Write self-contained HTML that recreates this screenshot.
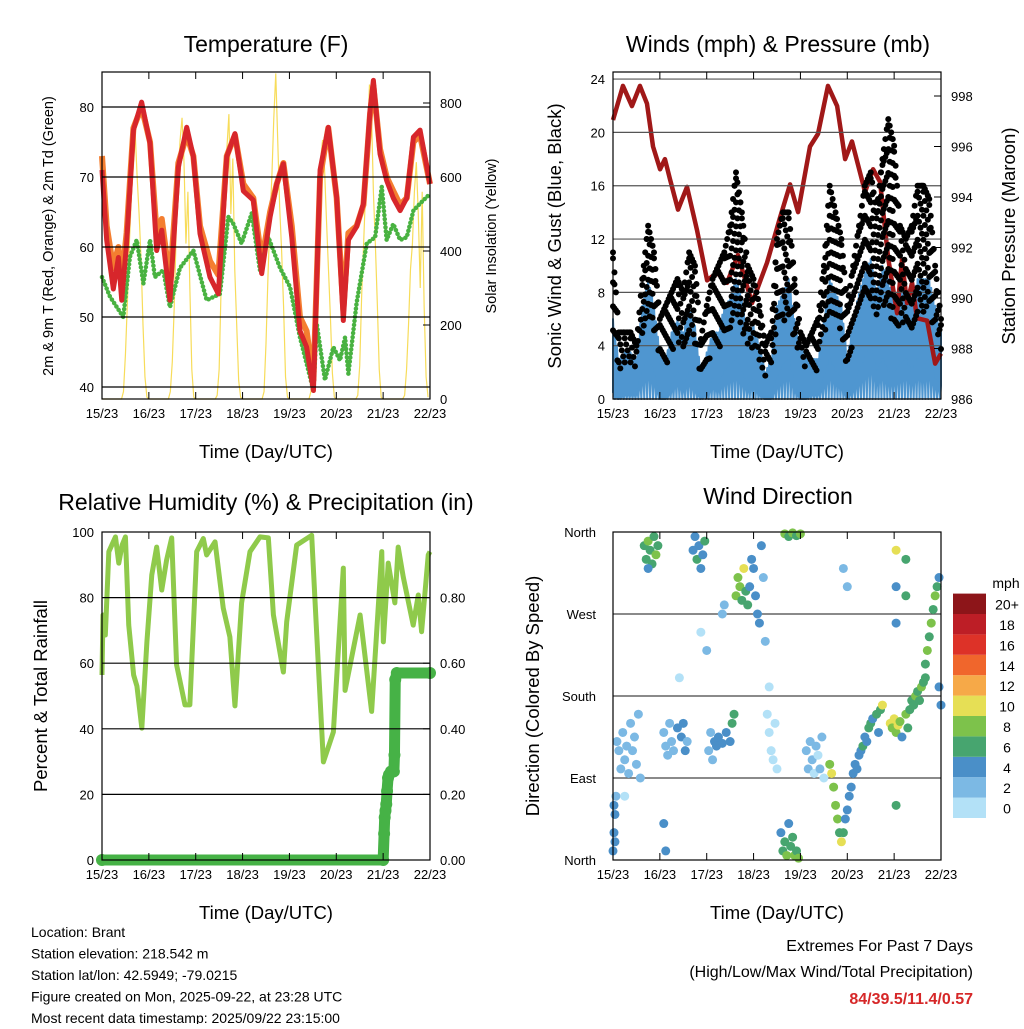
<!DOCTYPE html>
<html><head><meta charset="utf-8"><style>
body{margin:0;background:#fff;}
svg text{font-family:"Liberation Sans",sans-serif;fill:#000;}
</style></head><body>
<svg id="chart" xmlns="http://www.w3.org/2000/svg" width="1024" height="1024" viewBox="0 0 1024 1024"></svg>
<script>
// ---------- Temperature panel data ----------
const redHours=[0,2.4,5.8,8.4,10.1,12.6,16.1,20.3,24.6,28,30.6,34.8,39.1,43.4,46.8,50.2,55.3,59.6,63.9,68.1,72.4,77.5,81.8,86.1,89.5,92.9,97.2,101.4,104.8,108.3,111.7,115.9,120.2,123.6,126.2,130.4,133.9,137.3,139,142.4,145.8,149.2,152.7,156.1,159.5,162.9,168];
const temp2m=[71,61,54,58.5,52.4,60.5,76.7,80.7,74.8,59.5,62.4,52.4,71.4,77.1,72.9,61.9,55.7,53.3,72.9,76.2,68,66.7,56.2,64.3,69,71.9,61.4,48,45.7,39.5,71,77.1,67.1,49.5,61,62.9,66.2,79.5,83.8,73.3,69.5,67,65.2,67,75.7,76.7,69];
const temp9m=[73,63,57,60,55,62,77,80,75,62,64,55,72,76,73,63,58,56,73,76,69,67,58,65,69,72,63,50,48,41,70,77,67,51,62,63,66,79,83,74,70,68,66,67,75,76,69];
const dewHours=[0,4.1,10.9,14.3,17.8,21.2,24.6,27.1,31.4,34.8,39.9,46.8,53.6,60.4,64.7,67.3,71.5,76.7,80.9,85.2,91.2,96.3,101.4,108.3,110,114.2,118.5,121.9,124.5,126.2,130.4,135.6,139.9,143.3,145.8,149.2,152.7,156.1,159.5,162.9,168];
const dewpoint=[55.7,52.9,50,58.6,61,54.8,61,55.7,56.7,51.4,57,59.5,52.4,53.3,64.3,63.3,60.5,64.8,56.7,61.4,57,54.3,47.1,39.5,49,41,45.7,43.8,47.1,41.9,52,60.5,61.4,68.6,61,63.3,61,61.4,65.2,66.2,67.6];
const solar=[0,0,0,0,0,0,0,0,0,0,0,20,120,260,420,540,650,720,600,500,380,200,60,5,
0,0,0,0,0,0,0,0,0,0,0,20,100,250,450,600,700,760,640,420,560,300,80,5,
0,0,0,0,0,0,0,0,0,0,0,10,80,300,500,620,680,770,500,650,350,200,50,5,
0,0,0,0,0,0,0,0,0,0,0,20,150,330,480,600,760,880,700,520,400,250,60,5,
0,0,0,0,0,0,0,0,0,0,0,20,120,300,460,580,650,700,620,480,350,220,70,5,
0,0,0,0,0,0,0,0,0,0,0,10,90,280,420,560,700,850,780,560,420,260,80,5,
0,0,0,0,0,0,0,0,0,0,0,10,80,200,350,420,560,640,500,300,560,250,60,5];
const dayLabels=["15/23","16/23","17/23","18/23","19/23","20/23","21/23","22/23"];
const tempTicks=[40,50,60,70,80];
const solarTicks=[0,200,400,600,800];
// ---------- Wind panel data ----------
const windHours=[0,3,6,9,12,15,18,21,24,27,30,33,36,39,42,45,48,51,54,57,60,63,66,69,72,75,78,81,84,87,90,93,96,99,102,105,108,111,114,117,120,123,126,129,132,135,138,141,144,147,150,153,156,159,162,165,168];
const windHi=[6,3,3.5,3.5,3,7,9,7,3.5,3,5,6,5,7,5.5,2,3.5,5,5,7,7.5,9,7.5,5,5.5,4,2,3,7,8,9,6,4,3,3,3,6,9,8,7,3,6,8,9.5,10.5,8,10,9,7,8,8,7.5,9,9,9,7,5];
const windLo=[0.5,0,0.5,0.5,0.5,2,3,2,0,0,1,2,1,2,1,0,0.5,1.5,1,2,2.5,3,2,1,1.5,0.5,0,0,1.5,2.5,3,1,0,0,0.5,0.5,1.5,3,2,1.5,0,1,2,3,4,2,3,2,2,2.5,3,2,3,2.5,3,1.5,1];
const gustHi=[11,5,5,5,4,9,13,11,6,7,8,9,8,11,10,4.5,7,9,10,11,13,17,14,10,9,7,4,5,12,14,14,9,5,4,5,6,10,16,14,12,7,10,13,16,17,14,18,21,19,13,12,13,16,16,15,10,6];
const presHours=[0,5.1,9.7,13.8,17.4,20.5,24.1,26.6,29.2,33.3,37.9,43,48.2,53.3,58.4,64,71.2,78.9,85.6,90.7,94.8,100.9,105,110.1,114.8,118.9,122.4,129.1,133.2,136.8,140.9,145.5,148,150.6,153.2,155.7,160.9,165,168];
const pressure=[997.05,998.4,997.6,998.4,997.7,996,995.1,995.5,994.7,993.5,994.4,992.7,990.7,991,990.6,991.7,989.8,991.4,993.2,994.5,993.4,996,996.5,998.4,997.6,995.5,996.2,994.2,995.1,994.6,991.6,989.4,991.5,989.8,990.6,989.2,989.1,987.4,987.8];
const windTicks=[0,4,8,12,16,20,24];
const presTicks=[986,988,990,992,994,996,998];
// ---------- RH panel data ----------
const rhHours=[0,0.5,1.7,3.5,6.9,8.6,10.3,12,13.7,16.2,17.9,20.4,23,25.5,28,30.6,33.1,35.7,38.2,42.5,45,48.5,51.9,53.6,57.9,62.1,65.5,68.1,71.5,75.8,80.9,85.2,87.8,92.9,94.6,99.7,107.4,110,113.4,118.5,123.6,124.5,132.2,138.1,143.3,144.1,146.6,150,151.7,154.3,159.4,162,163.7,167.1,168];
const rhVals=[56.4,74.7,68.6,94,98.5,90.5,96,98.5,71.6,56.4,53,40.2,66.5,86.9,95.4,82.3,91.5,98.2,59.5,47.3,47.3,94,98,93,97,76.8,68,47,78.4,94,98.5,98.2,74.7,57.3,72.6,96,99,68.6,29.9,39,89,51.7,74.7,45.3,94,66.5,90.5,78.4,95.4,86.3,71.6,80.8,69.6,93,94];
const precipHours=[0,144,144.5,144.8,145.2,145.6,146,146.5,147,148,149.5,149.8,150.2,151,168];
const precipVals=[0,0,0.08,0.13,0.15,0.17,0.21,0.25,0.26,0.27,0.27,0.32,0.55,0.57,0.57];
const rhTicks=[0,20,40,60,80,100];
const precipTicks=["0.00","0.20","0.40","0.60","0.80"];
// ---------- Wind direction data ----------
const dirHours=[0,0.5,1,1.5,0.5,1,2,3,4,5,6,7,8,9,10,11,12,13,14,6,
16,17,18,19,20,21,22,23,18,
26,27,28,29,30,31,33,35,36,37,38,26,27,
41,42,43,44,45,46,47,
49,50,51,52,53,54,56,58,60,61,62,48,
63,64,65,66,67,68,69,
70,71,72,73,74,75,76,77,78,
79,80,81,82,83,84,80,
86,87,88,89,90,91,92,93,94,95,
88,90,92,94,96,
99,100,101,102,103,104,105,106,107,108,
111,112,113,114,115,116,117,
118,119,120,121,122,123,124,125,126,127,
128,129,130,131,132,133,135,136,137,138,
142,143,144,145,146,147,148,150,151,
152,153,154,155,156,157,158,159,160,
160,161,162,163,164,165,166,167,168,167,
145,145,145,145,150,150,118,120,56,57,45,34];
const dirVals=[10,30,50,70,60,20,130,120,100,140,110,125,95,150,120,135,105,160,90,70,
345,330,350,340,325,355,335,345,320,
140,125,115,150,130,120,145,135,150,120,130,40,10,
340,355,330,345,320,335,350,
120,140,110,130,125,135,128,140,130,150,160,230,
290,310,300,285,320,295,280,
300,330,320,290,270,260,345,310,240,
160,140,120,110,150,100,190,
30,10,20,5,40,15,25,5,10,2,
358,355,359,356,358,
120,100,130,110,95,125,115,100,135,90,
105,95,80,60,45,30,20,
30,45,55,70,80,95,105,100,115,120,
125,135,130,145,150,155,160,140,165,170,
150,145,155,140,148,152,135,160,145,
165,175,170,180,185,175,190,195,200,
215,230,245,260,275,290,300,310,170,190,
340,300,260,60,330,290,320,300,270,280,250,200];
const dirSpeeds=[4,4,4,3,4,4,2,2,2,2,2,2,2,2,2,3,2,3,2,1,
6,7,8,7,6,7,8,6,5,
2,2,3,2,3,2,4,4,4,4,3,4,4,
4,5,6,4,5,4,6,
3,2,2,4,4,5,4,4,4,6,6,2,
8,9,8,6,10,7,6,
4,4,4,4,4,4,4,3,3,
1,1,1,1,1,1,1,
5,6,7,8,4,6,7,8,6,9,
8,7,8,7,9,
2,2,3,2,1,3,1,2,2,1,
8,10,8,8,9,7,10,
6,4,4,4,4,4,5,4,4,5,
6,5,4,6,7,5,6,4,6,10,
10,9,11,8,10,9,4,8,6,
6,7,6,8,7,6,8,7,6,
7,8,6,8,7,8,6,5,4,4,
10,4,4,7,6,7,2,2,2,3,1,1];
const dirTicks=["North","East","South","West","North"];
const speedBins=["0","2","4","6","8","10","12","14","16","18","20+"];
const speedColors=["#b3e1f7","#7cb9e4","#4a8fc8","#47a56f","#7dc24b","#e6df55","#f6a948","#f0662c","#dd3228","#bd1e26","#8d1519"];

const NS="http://www.w3.org/2000/svg";
const svg=document.getElementById('chart');
function mk(tag,attrs,parent){const e=document.createElementNS(NS,tag);for(const k in attrs)e.setAttribute(k,attrs[k]);(parent||svg).appendChild(e);return e;}
function txt(s,x,y,size,anchor,parent,extra){const t=mk('text',Object.assign({x:x,y:y,'font-size':size,'text-anchor':anchor||'start'},extra||{}),parent);t.textContent=s;return t;}
function grp(name){const g=mk('g',{});return g;}
function interp(hs,vs,h){for(let i=0;i<hs.length-1;i++){if(h>=hs[i]&&h<=hs[i+1]){const f=(h-hs[i])/((hs[i+1]-hs[i])||1);return vs[i]+f*(vs[i+1]-vs[i]);}}return vs[vs.length-1];}

function frame(name,x0,y0,x1,y1,xTitleY){
  const g=grp(name+'-frame');
  mk('rect',{x:x0,y:y0,width:x1-x0,height:y1-y0,fill:'none',stroke:'#000','stroke-width':1.2},g);
  const xa=grp(name+'-x-axis');
  for(let d=0;d<dayLabels.length;d++){
    const x=x0+d*(x1-x0)/7;
    mk('line',{x1:x,y1:y1,x2:x,y2:y1-7,stroke:'#000'},xa);
    mk('line',{x1:x,y1:y0,x2:x,y2:y0+7,stroke:'#000'},xa);
    const t=txt(dayLabels[d],x,y1+19,13,'middle',xa);
    
    
  }
  const xt=txt('Time (Day/UTC)',(x0+x1)/2,xTitleY,18.5,'middle',xa);
  
  
}
function hline(g,x0,x1,y,col){mk('line',{x1:x0,y1:y,x2:x1,y2:y,stroke:col||'#000','stroke-width':1.2},g);}

// ===== Panel 1: Temperature =====
(function(){
  const x0=102,x1=430,y0=72,y1=399;
  const X=h=>x0+h*(x1-x0)/168, YT=v=>387-(v-40)*7, YS=w=>399-w*0.37;
  const g=grp('temperature-panel');
  const tt=txt('Temperature (F)',266,52,23,'middle',g);
  
  
  const grid=grp('temperature-gridlines');
  tempTicks.forEach(v=>{hline(grid,x0,x1,YT(v));const t=txt(String(v),94,YT(v)+5,13,'end',grid);});
  solarTicks.forEach(v=>{mk('line',{x1:x1,y1:YS(v),x2:x1-7,y2:YS(v),stroke:'#000'},grid);const t=txt(String(v),440,YS(v)+5,13,'start',grid);});
  const sol=mk('polyline',{points:solar.map((w,i)=>X(i)+','+YS(w)).join(' '),fill:'none',stroke:'#f7dc5a','stroke-width':1.2},g);
  
  
  const o=mk('polyline',{points:redHours.map((h,i)=>X(h)+','+YT(temp9m[i])).join(' '),fill:'none',stroke:'#f47e30','stroke-width':6,'stroke-linejoin':'round'},g);
  
  
  const dw=mk('polyline',{points:dewHours.map((h,i)=>X(h)+','+YT(dewpoint[i])).join(' '),fill:'none',stroke:'#49b241','stroke-width':4.5,'stroke-linecap':'round','stroke-dasharray':'0.1 4'},g);
  
  
  const r=mk('polyline',{points:redHours.map((h,i)=>X(h)+','+YT(temp2m[i])).join(' '),fill:'none',stroke:'#d7262b','stroke-width':5,'stroke-linejoin':'round'},g);
  
  
  frame('temperature',x0,y0,x1,y1,458);
  const yl=txt('2m & 9m T (Red, Orange) & 2m Td (Green)',0,0,14.5,'middle',g,{transform:'translate(53,236) rotate(-90)'});
  
  
  const y2=txt('Solar Insolation (Yellow)',0,0,14.5,'middle',g,{transform:'translate(496,236) rotate(-90)'});
  
  
})();

// ===== Panel 2: Winds & Pressure =====
(function(){
  const x0=613,x1=941,y0=72,y1=399;
  const X=h=>x0+h*(x1-x0)/168, YW=v=>399-v*13.33, YP=p=>399-(p-986)*25.25;
  const g=grp('wind-panel');
  const tt=txt('Winds (mph) & Pressure (mb)',778,52,23,'middle',g);
  
  
  const grid=grp('wind-gridlines');
  windTicks.forEach(v=>{hline(grid,x0,x1,YW(v),'#555');const t=txt(String(v),605,YW(v)+5,13,'end',grid);});
  presTicks.forEach(v=>{mk('line',{x1:x1,y1:YP(v),x2:x1-7,y2:YP(v),stroke:'#000'},grid);const t=txt(String(v),951,YP(v)+5,13,'start',grid);});
  const gust=grp('gust-points');
  let k=0;
  for(let h=0;h<=168;h+=0.75){
    const hi=interp(windHours,gustHi,h), bh=interp(windHours,windHi,h);
    k++;
    const off=(k%4)*0.45;
    for(let v=hi-off;v>=bh*0.7;v-=1.8){
      mk('circle',{cx:X(h),cy:YW(v),r:3,fill:'#000'},gust);
    }
    mk('circle',{cx:X(h),cy:YW(hi),r:3,fill:'#000'},gust);
  }
  const up=[],dn=[];
  let j=0;
  for(let h=0;h<=168;h+=0.5){
    j++;
    const lo=interp(windHours,windLo,h),hi=interp(windHours,windHi,h);
    up.push(X(h)+','+YW(j%2?hi:hi*0.75));
    dn.unshift(X(h)+','+YW(j%3?lo:0));
  }
  const wl=mk('polygon',{points:up.concat(dn).join(' '),fill:'#4f96d0',stroke:'#4f96d0','stroke-width':2,'stroke-linejoin':'round'},g);
  
  
  const pl=mk('polyline',{points:presHours.map((h,i)=>X(h)+','+YP(pressure[i])).join(' '),fill:'none',stroke:'#a01818','stroke-width':4.5,'stroke-linejoin':'round'},g);
  
  
  frame('wind',x0,y0,x1,y1,458);
  const yl=txt('Sonic Wind & Gust (Blue, Black)',0,0,18.5,'middle',g,{transform:'translate(561,236) rotate(-90)'});
  
  
  const y2=txt('Station Pressure (Maroon)',0,0,18.5,'middle',g,{transform:'translate(1015,236) rotate(-90)'});
  
  
})();

// ===== Panel 3: RH & Precip =====
(function(){
  const x0=102,x1=430,y0=532,y1=860;
  const X=h=>x0+h*(x1-x0)/168, YR=v=>860-v*3.28, YPr=v=>860-v*328;
  const g=grp('humidity-panel');
  const tt=txt('Relative Humidity (%) & Precipitation (in)',266,510,23,'middle',g);
  
  
  const grid=grp('humidity-gridlines');
  rhTicks.forEach(v=>{if(v>0&&v<100)hline(grid,x0,x1,YR(v));const t=txt(String(v),94,YR(v)+5,13,'end',grid);});
  precipTicks.forEach(s=>{const v=parseFloat(s);mk('line',{x1:x1,y1:YPr(v),x2:x1-7,y2:YPr(v),stroke:'#000'},grid);const t=txt(s,440,YPr(v)+5,13,'start',grid);});
  const rl=mk('polyline',{points:rhHours.map((h,i)=>X(h)+','+YR(rhVals[i])).join(' '),fill:'none',stroke:'#8fca4b','stroke-width':5,'stroke-linejoin':'round'},g);
  
  
  const pl=mk('polyline',{points:precipHours.map((h,i)=>X(h)+','+YPr(precipVals[i])).join(' '),fill:'none',stroke:'#46b246','stroke-width':11,'stroke-linejoin':'round','stroke-linecap':'round'},g);
  
  
  precipHours.forEach((h,i)=>{const c=mk('circle',{cx:X(h),cy:YPr(precipVals[i]),r:6,fill:'#46b246'},g);});
  frame('humidity',x0,y0,x1,y1,919);
  const yl=txt('Percent & Total Rainfall',0,0,18.5,'middle',g,{transform:'translate(47,696) rotate(-90)'});
  
  
})();

// ===== Panel 4: Wind Direction =====
(function(){
  const x0=613,x1=941,y0=532,y1=860;
  const X=h=>x0+h*(x1-x0)/168, YD=d=>860-d*328/360;
  const g=grp('direction-panel');
  const tt=txt('Wind Direction',778,504,23,'middle',g);
  
  
  const grid=grp('direction-gridlines');
  dirTicks.forEach((s,i)=>{const y=YD(i*90);if(i>0&&i<4)hline(grid,x0,x1,y,'#444');const t=txt(s,596,y+5,13,'end',grid);});
  const pts=grp('direction-points');
  dirHours.forEach((h,i)=>{
    const bin=Math.min(10,Math.floor(dirSpeeds[i]/2));
    const c=mk('circle',{cx:X(h),cy:YD(dirVals[i]),r:4.5,fill:speedColors[bin]},pts);
    
    
  });
  frame('direction',x0,y0,x1,y1,919);
  const yl=txt('Direction (Colored By Speed)',0,0,18.5,'middle',g,{transform:'translate(539,696) rotate(-90)'});
  
  
  const lg=grp('speed-colorbar');
  txt('mph',1006,588,14,'middle',lg);
  speedBins.forEach((s,i)=>{
    const y=818-(i+1)*20.4;
    const r=mk('rect',{x:953,y:y,width:33,height:20.4,fill:speedColors[i]},lg);
    
    
    txt(s,1007,y+16,14,'middle',lg);
  });
})();

// ===== Footer text =====
(function(){
  const g=grp('station-info');
  ["Location: Brant","Station elevation: 218.542 m","Station lat/lon: 42.5949; -79.0215","Figure created on Mon, 2025-09-22, at 23:28 UTC","Most recent data timestamp: 2025/09/22 23:15:00"].forEach((s,i)=>txt(s,31,937+i*21.5,14,'start',g));
  const e=grp('extremes-summary');
  txt('Extremes For Past 7 Days',973,951,16,'end',e);
  txt('(High/Low/Max Wind/Total Precipitation)',973,977,16,'end',e);
  txt('84/39.5/11.4/0.57',973,1004,16,'end',e,{'font-weight':'bold',style:'fill:#d62728'});
})();
</script>
</body></html>
